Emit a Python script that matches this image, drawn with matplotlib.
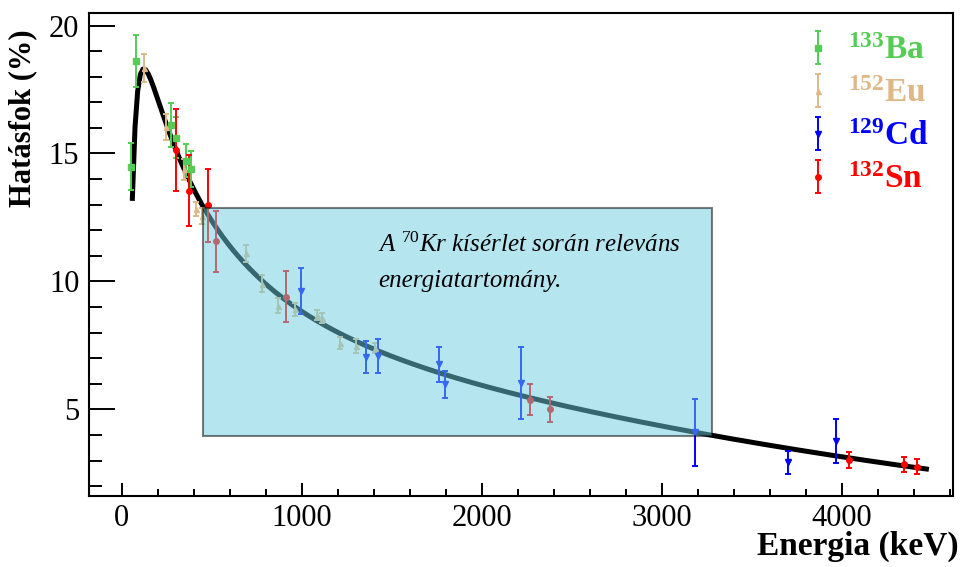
import numpy as np
import matplotlib
matplotlib.use("Agg")
import matplotlib.pyplot as plt
from matplotlib.patches import Rectangle
from matplotlib.ticker import MultipleLocator

plt.rcParams['font.family'] = ['Liberation Serif', 'DejaVu Serif']
plt.rcParams['mathtext.fontset'] = 'custom'
plt.rcParams['mathtext.rm'] = 'Liberation Serif'
plt.rcParams['mathtext.it'] = 'Liberation Serif:italic'
plt.rcParams['mathtext.bf'] = 'Liberation Serif:bold'

# 133Ba calibration source
ba_E = [53, 81, 276, 303, 356, 384]
ba_eff = [14.48, 18.62, 16.12, 15.62, 14.72, 14.38]
ba_err = [0.92, 1.02, 0.86, 0.80, 0.65, 0.70]

# 152Eu calibration source
eu_E = [122, 245, 344, 411, 444, 689, 779, 867, 964, 1086, 1112, 1213, 1299, 1408]
eu_eff = [18.34, 16.03, 14.38, 12.84, 12.56, 11.10, 9.92, 9.06, 8.91, 8.70, 8.57, 7.60, 7.48, 7.40]
eu_err = [0.54, 0.50, 0.42, 0.28, 0.30, 0.33, 0.33, 0.28, 0.26, 0.20, 0.20, 0.22, 0.26, 0.20]

# 129Cd in-beam lines
cd_E = [994, 1357, 1426, 1761, 1798, 2218, 3185, 3700, 3967]
cd_eff = [9.63, 7.05, 7.09, 6.77, 5.98, 6.04, 4.11, 2.93, 3.77]
cd_err = [0.90, 0.64, 0.68, 0.68, 0.54, 1.41, 1.31, 0.46, 0.87]

# 132Sn in-beam lines
sn_E = [302, 376, 481, 526, 910, 2270, 2381, 4041, 4348, 4417]
sn_eff = [15.14, 13.55, 12.97, 11.57, 9.41, 5.38, 5.00, 3.04, 2.86, 2.76]
sn_err = [1.60, 1.40, 1.42, 1.20, 1.00, 0.60, 0.50, 0.31, 0.30, 0.29]

# efficiency fit: ln(eff) = poly(ln(E/1000))
fit_par = [-0.0037333, -0.015509, -0.026198, -0.0039453, -0.047652, -0.5233, 2.1783]
fit_range = (59, 4470)

# energy window relevant for the 70Kr experiment
band_E = (450, 3280)
band_eff = (3.95, 12.87)

series = [
    (ba_E, ba_eff, ba_err, '#55cc55', 's', 4.6, r"$^{\mathbf{133}}$Ba"),
    (eu_E, eu_eff, eu_err, '#deb887', '^', 3.6, r"$^{\mathbf{152}}$Eu"),
    (cd_E, cd_eff, cd_err, '#0000ff', 'v', 4.0, r"$^{\mathbf{129}}$Cd"),
    (sn_E, sn_eff, sn_err, '#ff0000', 'o', 4.0, r"$^{\mathbf{132}}$Sn"),
]

fig = plt.figure(figsize=(9.65, 5.67), dpi=100)
ax = fig.add_axes([0.0922, 0.1252, 0.8954, 0.8524])

e = np.linspace(fit_range[0], fit_range[1], 300)
ax.plot(e, np.exp(np.polyval(fit_par, np.log(e / 1000.0))), color='black', lw=3.6, zorder=2)

handles, labels, colors = [], [], []
for E, eff, err, col, mk, ms, lab in series:
    h = ax.errorbar(E, eff, yerr=err, fmt=mk, color=col, ms=ms, elinewidth=1.4,
                    capsize=2.2, capthick=1.4, zorder=3)
    handles.append(h)
    labels.append(lab)
    colors.append(col)

box = Rectangle((band_E[0], band_eff[0]), band_E[1] - band_E[0], band_eff[1] - band_eff[0],
                facecolor='#6dcfe3', edgecolor='black', lw=1.5, alpha=0.5, zorder=4)
ax.add_patch(box)

ax.text(0.3345, 0.504, r"A $^{\mathit{70}}$Kr kísérlet során releváns", style='italic',
        fontsize=18, transform=ax.transAxes, va='baseline', ha='left', zorder=5)
ax.text(0.3345, 0.433, "energiatartomány.", style='italic',
        fontsize=18, transform=ax.transAxes, va='baseline', ha='left', zorder=5)

leg = ax.legend(handles, labels, loc='upper left', bbox_to_anchor=(0.813, 0.981),
                frameon=False, handlelength=0.8, handletextpad=0.5, labelspacing=0.36,
                borderaxespad=0, prop={'family': 'Liberation Serif', 'weight': 'bold', 'size': 24},
                labelcolor=colors)

ax.set_xlim(-182, 4618)
ax.set_ylim(1.62, 20.5)
ax.xaxis.set_major_locator(MultipleLocator(1000))
ax.xaxis.set_minor_locator(MultipleLocator(200))
ax.yaxis.set_major_locator(MultipleLocator(5))
ax.yaxis.set_minor_locator(MultipleLocator(1))
ax.tick_params(axis='both', which='both', direction='in', width=1.4, labelsize=22)
ax.tick_params(axis='y', which='major', length=18.5, pad=7)
ax.tick_params(axis='y', which='minor', length=9.3)
ax.tick_params(axis='x', which='major', length=9.3, pad=6)
ax.tick_params(axis='x', which='minor', length=5)
for s in ax.spines.values():
    s.set_linewidth(1.5)

ax.set_xlabel("Energia (keV)", fontsize=24, fontweight='bold', loc='right')
ax.xaxis.set_label_coords(1.006, -0.072)
ax.set_ylabel("Hatásfok (%)", fontsize=22, fontweight='bold', loc='top')
ax.yaxis.set_label_coords(-0.06, 0.965)

fig.savefig("out.png", dpi=100)
